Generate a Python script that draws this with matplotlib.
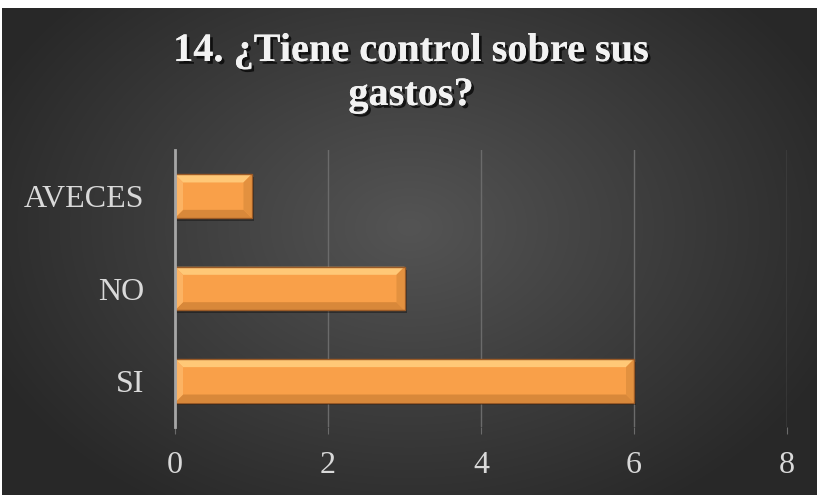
import numpy as np
import matplotlib
matplotlib.use("Agg")
import matplotlib.pyplot as plt
from matplotlib.patches import Polygon, Rectangle
import matplotlib.patheffects as pe

# --- datos ---
categorias = ["SI", "NO", "AVECES"]
valores = [6, 3, 1]
ticks_x = [0, 2, 4, 6, 8]
titulo = "14. ¿Tiene control sobre sus\ngastos?"

W, H = 817, 495
fig = plt.figure(figsize=(W / 100, H / 100), dpi=100, facecolor="white")

# fondo con degradado radial
bg = fig.add_axes([2 / W, 0, (W - 2) / W, (H - 8) / H])
yy, xx = np.mgrid[0:1:300j, 0:1:500j]
r = np.sqrt(((xx - 0.5) / 0.75) ** 2 + ((yy - 0.45) / 0.9) ** 2)
r = np.clip(r / 0.75, 0, 1)
c0, c1 = np.array([0.33, 0.33, 0.33]), np.array([0.16, 0.16, 0.16])
img = c0[None, None, :] * (1 - r[..., None]) + c1[None, None, :] * r[..., None]
bg.imshow(img, aspect="auto", extent=[0, 1, 0, 1], interpolation="bicubic")
bg.set_axis_off()

# area de trazado
ax = fig.add_axes([175 / W, (H - 427) / H, 612 / W, 277 / H])
ax.set_facecolor("none")
ax.set_xlim(0, 8)
ax.set_ylim(-0.5, len(categorias) - 0.5)

alto = 0.47
ypos = np.arange(len(categorias))
ax.barh(ypos, valores, height=alto, color="#F9A049", zorder=3)

# efecto bisel sobre cada barra
bx = 8 / 76.5
by = 8 / 92.3
for y, v in zip(ypos, valores):
    y0, y1 = y - alto / 2, y + alto / 2
    ax.add_patch(Rectangle((0.03, y0 - 0.03), v, alto, color="black", alpha=0.35, zorder=2, lw=0))
    ax.add_patch(Polygon([(0, y1), (v, y1), (v - bx, y1 - by), (bx, y1 - by)],
                         color="#FFC877", zorder=4, lw=0))
    ax.add_patch(Polygon([(0, y0), (v, y0), (v - bx, y0 + by), (bx, y0 + by)],
                         color="#D8883A", zorder=4, lw=0))
    ax.add_patch(Polygon([(0, y0), (bx, y0 + by), (bx, y1 - by), (0, y1)],
                         color="#FCB363", zorder=4, lw=0))
    ax.add_patch(Polygon([(v, y0), (v - bx, y0 + by), (v - bx, y1 - by), (v, y1)],
                         color="#E3913F", zorder=4, lw=0))
    ax.add_patch(Rectangle((0, y0), v, alto, fill=False, ec="#9A5A26", lw=1, zorder=5))

for s in ["top", "right", "bottom"]:
    ax.spines[s].set_visible(False)
ax.spines["left"].set_color("#A6A6A6")
ax.spines["left"].set_linewidth(2)
ax.spines["left"].set_zorder(6)

ax.set_xticks(ticks_x)
ax.xaxis.grid(True, color="#6B6B6B", lw=1, zorder=1)
ax.set_axisbelow(True)
ax.tick_params(axis="x", length=5, color="#6B6B6B", pad=12,
               labelsize=23, labelcolor="#D9D9D9")
ax.set_yticks(ypos)
ax.set_yticklabels(categorias)
ax.tick_params(axis="y", length=0, pad=22, labelsize=23, labelcolor="#D9D9D9")
for lab in ax.get_xticklabels() + ax.get_yticklabels():
    lab.set_fontfamily("Liberation Serif")

fig.text(0.503, 1 - 33 / H, titulo, ha="center", va="top", fontsize=29,
         fontweight="bold", family="Liberation Serif", color="#F2F2F2",
         linespacing=1.25,
         path_effects=[pe.withSimplePatchShadow(offset=(2, -2), shadow_rgbFace="black", alpha=0.7),
                       pe.Normal()])

fig.savefig("out.png", dpi=100, facecolor="white")
